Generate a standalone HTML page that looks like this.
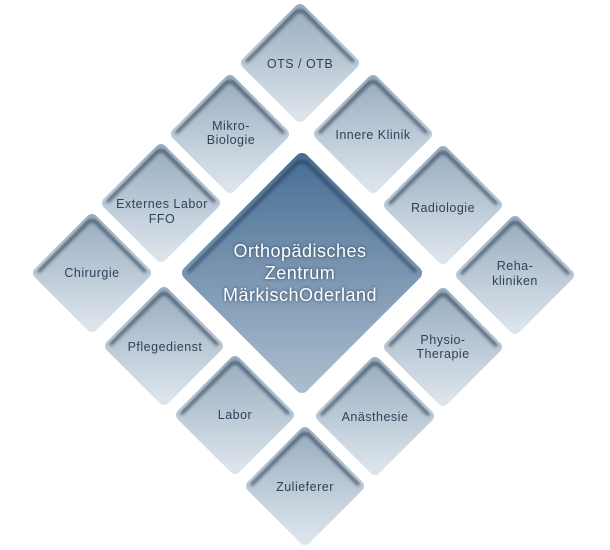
<!DOCTYPE html>
<html><head><meta charset="utf-8"><style>
html,body{margin:0;padding:0;background:#fff;width:610px;height:550px;overflow:hidden}
svg{display:block}
text{font-family:"Liberation Sans",sans-serif}
</style></head><body>
<svg width="610" height="550" viewBox="0 0 610 550">
<defs>
<linearGradient id="g" x1="0" y1="0" x2="0" y2="1">
<stop offset="0" stop-color="#9aaec1"/><stop offset="1" stop-color="#dce4eb"/>
</linearGradient>
<linearGradient id="gc" x1="0" y1="0" x2="0" y2="1">
<stop offset="0" stop-color="#4a6f95"/><stop offset="1" stop-color="#a9bccd"/>
</linearGradient>
<filter id="b" x="-20%" y="-20%" width="140%" height="140%"><feGaussianBlur stdDeviation="1.5"/></filter>
<clipPath id="cs"><polygon points="0,-58 58,0 0,58 -58,0"/></clipPath>
<clipPath id="cc"><polygon points="0,-119 119,0 0,119 -119,0"/></clipPath>
<g id="s">
<polygon points="0,-53 53,0 0,53 -53,0" fill="url(#g)" stroke="url(#g)" stroke-width="12" stroke-linejoin="round"/>
<g clip-path="url(#cs)">
<polyline points="-54,-1 -3,-52 3,-52 54,-1" fill="none" stroke="#2a3a4c" stroke-width="3.5" stroke-linejoin="round" opacity="0.7" filter="url(#b)"/>
</g>
</g>
</defs>
<use href="#s" x="300" y="63"/>
<use href="#s" x="230" y="134"/>
<use href="#s" x="373" y="134"/>
<use href="#s" x="161" y="203"/>
<use href="#s" x="443" y="205"/>
<use href="#s" x="92" y="273"/>
<use href="#s" x="515" y="275"/>
<use href="#s" x="164" y="346"/>
<use href="#s" x="443" y="347"/>
<use href="#s" x="235" y="415"/>
<use href="#s" x="375" y="416"/>
<use href="#s" x="305" y="486"/>
<g transform="translate(302,273)">
<polygon points="0,-113 113,0 0,113 -113,0" fill="url(#gc)" stroke="url(#gc)" stroke-width="14" stroke-linejoin="round"/>
<g clip-path="url(#cc)">
<polyline points="-114,-1 -4,-111 4,-111 114,-1" fill="none" stroke="#1f3550" stroke-width="3.5" stroke-linejoin="round" opacity="0.6" filter="url(#b)"/>
</g>
</g>
<g fill="#2e425a" font-size="12.5" text-anchor="middle" letter-spacing="0.5">
<text x="300" y="68">OTS / OTB</text>
<text x="231" y="130">Mikro-</text><text x="231" y="144">Biologie</text>
<text x="373" y="139">Innere Klinik</text>
<text x="162" y="208">Externes Labor</text><text x="162" y="223">FFO</text>
<text x="443" y="212">Radiologie</text>
<text x="92" y="277">Chirurgie</text>
<text x="515" y="270">Reha-</text><text x="515" y="285">kliniken</text>
<text x="165" y="351">Pflegedienst</text>
<text x="443" y="344">Physio-</text><text x="443" y="358">Therapie</text>
<text x="235" y="419">Labor</text>
<text x="375" y="421">Anästhesie</text>
<text x="305" y="491">Zulieferer</text>
</g>
<g fill="#fff" font-size="18" text-anchor="middle" letter-spacing="0.5" style="text-shadow:0 0 3px #2a3f58">
<text x="300" y="257">Orthopädisches</text>
<text x="300" y="279">Zentrum</text>
<text x="300" y="301">MärkischOderland</text>
</g>
</svg>
</body></html>
